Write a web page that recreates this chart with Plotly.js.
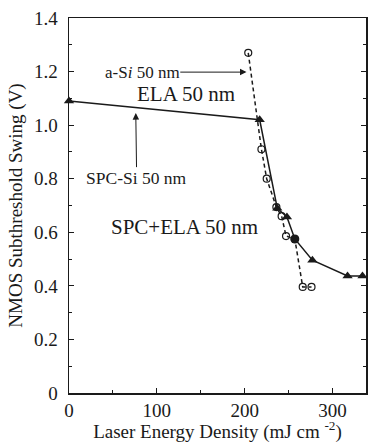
<!DOCTYPE html>
<html>
<head>
<meta charset="utf-8">
<script src="https://cdn.plot.ly/plotly-3.0.1.min.js"></script>
<style>html,body{margin:0;padding:0;background:#fff;}#chart{width:369px;height:443px;}</style>
</head>
<body>
<div id="chart"></div>
<script>
// SPC+ELA 50 nm (solid line, triangles)
const spcEnergy = [0, 217, 237, 248, 257, 277, 317, 334];
const spcSwing  = [1.09, 1.02, 0.69, 0.657, 0.575, 0.496, 0.437, 0.437];
const spcSymbols = ['triangle-up','triangle-up','triangle-up','triangle-up','circle','triangle-up','triangle-up','triangle-up'];
// a-Si ELA 50 nm (dashed line, open circles)
const aSiEnergy = [204, 219, 225, 236, 242, 247, 257, 266, 276];
const aSiSwing  = [1.27, 0.91, 0.80, 0.694, 0.66, 0.586, 0.575, 0.396, 0.396];
// axis ticks
const xTicks = [0, 100, 200, 300];
const xMinor = [50, 150, 250];
const yTicks = [0, 0.2, 0.4, 0.6, 0.8, 1.0, 1.2, 1.4];
const yTickText = ['0', '0.2', '0.4', '0.6', '0.8', '1.0', '1.2', '1.4'];
const yMinor = [0.1, 0.3, 0.5, 0.7, 0.9, 1.1, 1.3];

const ink = '#1a1a1a';
const fam = 'Liberation Serif';
const f = (s) => ({family: fam, size: s, color: ink});

const traces = [
  {x: aSiEnergy, y: aSiSwing, mode: 'lines+markers', type: 'scatter', cliponaxis: false,
   line: {color: ink, width: 1.5, dash: '4px,3px'},
   marker: {symbol: 'circle-open', size: 7, color: ink, line: {width: 1.2, color: ink}},
   showlegend: false},
  {x: spcEnergy, y: spcSwing, mode: 'lines+markers', type: 'scatter', cliponaxis: false,
   line: {color: ink, width: 1.5},
   marker: {symbol: spcSymbols, size: 9, color: ink},
   showlegend: false}
];

const layout = {
  width: 369, height: 443,
  margin: {l: 69, r: 3, t: 18, b: 50},
  paper_bgcolor: '#fff', plot_bgcolor: '#fff',
  font: f(18),
  xaxis: {
    range: [0, 338], tickvals: xTicks, ticks: 'inside', ticklen: 5,
    tickcolor: ink, showline: true, linecolor: ink, linewidth: 1.5, mirror: true,
    showgrid: false, zeroline: false, ticklabelstandoff: 0,
    minor: {ticks: 'inside', tickvals: xMinor, ticklen: 3, tickcolor: ink, showgrid: false},
    tickfont: f(19),
    title: {text: 'Laser Energy Density (mJ cm <sup>-2</sup>)', font: f(19), standoff: 3}
  },
  yaxis: {
    range: [0, 1.4], tickvals: yTicks, ticktext: yTickText,
    ticks: 'inside', ticklen: 5, tickcolor: ink, showline: true, linecolor: ink, linewidth: 1.5,
    mirror: 'ticks', showgrid: false, zeroline: false, ticklabelstandoff: 6,
    minor: {ticks: 'inside', tickvals: yMinor, ticklen: 3, tickcolor: ink, showgrid: false},
    tickfont: f(19),
    title: {text: 'NMOS Subthreshold Swing (V)', font: f(19), standoff: 6}
  },
  annotations: [
    {x: 202, y: 1.198, ax: 83.4, ay: 1.198, axref: 'x', ayref: 'y', xref: 'x', yref: 'y',
     text: 'a-S<i>i</i> 50 nm', font: f(17), showarrow: true, arrowhead: 2, arrowsize: 1.3,
     arrowwidth: 1, arrowcolor: ink, borderpad: 0},
    {x: 132.7, y: 1.118, xref: 'x', yref: 'y', text: 'ELA 50 nm', showarrow: false, font: f(21)},
    {x: 76, y: 1.045, ax: 77, ay: 0.804, axref: 'x', ayref: 'y', xref: 'x', yref: 'y',
     text: 'SPC-Si 50 nm', font: f(17.5), showarrow: true, arrowhead: 2, arrowsize: 1.3,
     arrowwidth: 1, arrowcolor: ink, borderpad: 0},
    {x: 131.6, y: 0.618, xref: 'x', yref: 'y', text: 'SPC+ELA 50 nm', showarrow: false, font: f(21)}
  ]
};

Plotly.newPlot('chart', traces, layout, {displayModeBar: false, staticPlot: true});
</script>
</body>
</html>
